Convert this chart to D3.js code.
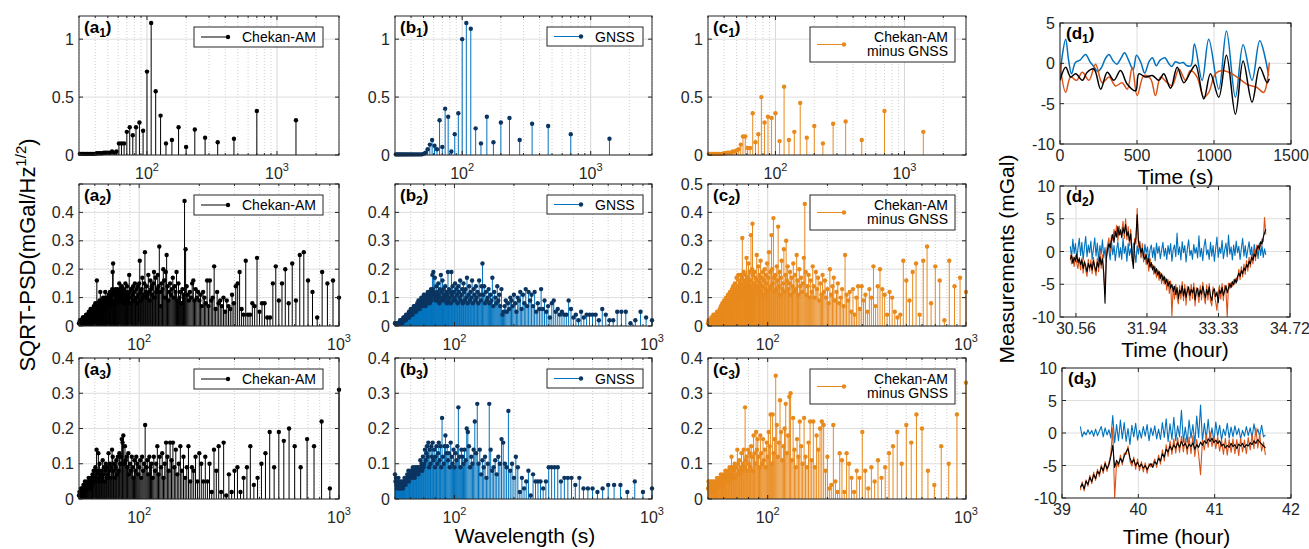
<!DOCTYPE html>
<html>
<head>
  <meta charset="utf-8">
  <title>SQRT-PSD and measurements</title>
  <script src="https://d3js.org/d3.v7.min.js"></script>
  <style>
    body { margin: 0; background: #fff; }
    text { font-family: "Liberation Sans", Arial, Helvetica, sans-serif; }
  </style>
</head>
<body>
  <svg id="fig" width="1309" height="549"></svg>

  <script>
    // ---- spectra: stem heights at wavelength = period / k, k = kStart, kStart+1, ...
    const period1 = 1400, kStart1 = 1;
    const period2 = 14000, kStart2 = 14;
    const period3 = 9000, kStart3 = 9;

    const a1 = [.30,.38,.14,.11,.15,.22,.07,.24,.13,.10,.34,.55,1.14,.72,.21,.28,.24,.17,.24,.20,.10,.10,.10,.03,.02,.03,.02,.02,.02,.02,.015,.015,.015,.015,.01,.01,.01,.01,.01,.01,.01,.01,.01,.01,.01,.01];
    const b1 = [.14,.18,.25,.27,.13,.32,.28,.11,.33,.10,.23,1.09,1.14,1.00,.36,.18,.03,.33,.40,.07,.30,.05,.08,.13,.09,.05,.02,.01,.005,.005,.005,.005,.005,.005,.005,.005,.005,.005,.005,.005,.005,.005,.005,.005,.005,.005];
    const c1 = [.20,.38,.13,.29,.27,.10,.25,.15,.45,.20,.13,.59,.12,.36,.32,.33,.28,.50,.18,.11,.36,.06,.06,.16,.16,.09,.05,.04,.03,.03,.02,.02,.02,.015,.015,.01,.01,.01,.01,.01,.01,.01,.01,.01,.01,.01];

    const a2 = [
      .10,.16,.15,.19,.03,.12,.16,.26,.25,.09, .22,.08,.20,.15,.09,.21,.15,.03,.03,.08,
      .08,.05,.24,.07,.08,.04,.04,.23,.04,.06, .19,.15,.14,.08,.11,.06,.07,.09,.05,.10,
      .07,.09,.08,.12,.06,.21,.10,.09,.16,.07, .16,.08,.10,.12,.07,.11,.09,.12,.10,.13,
      .09,.16,.15,.10,.12,.09,.11,.14,.27,.44, .11,.13,.08,.12,.10,.15,.09,.19,.12,.14,
      .10,.17,.13,.11,.15,.12,.09,.14,.25,.19, .10,.16,.20,.13,.15,.07,.12,.28,.14,.18,
      .13,.12,.17,.10,.19,.15,.11,.14,.13,.16, .09,.12,.18,.11,.10,.14,.12,.26,.15,.11,
      .10,.17,.13,.09,.12,.23,.15,.11,.14,.08, .13,.10,.09,.15,.12,.09,.14,.11,.13,.10,
      .13,.08,.12,.18,.10,.11,.09,.14,.12,.10, .15,.11,.09,.13,.08,.12,.10,.14,.11,.09,
      .13,.10,.15,.12,.09,.11,.13,.08,.12,.10, .13,.09,.11,.12,.08,.22,.19,.13,.09,.11,
      .07,.10,.12,.09,.08,.11,.10,.07,.09,.08, .10,.07,.09,.12,.08,.06,.09,.07,.10,.08,
      .06,.09,.07,.08,.06,.12,.07,.09,.06,.08, .07,.05,.08,.06,.16,.07,.05,.06,.08,.05,
      .06,.04,.07,.05,.06,.04,.05,.06,.04,.05, .04,.06,.03,.05,.04,.03,.05,.04,.03,.04,
      .03,.04,.03,.02,.04,.03,.02,.03,.02,.03, .02,.03,.02,.02,.03,.02,.01,.02,.02,.01,
      .02,.01,.01,.02,.01,.01,.01];
    const b2 = [
      .02,.03,.05,.02,.01,.05,.05,.05,.02,.02,.04,.06,.02,.04,.04,.04,.04,.03,.05,.02,.04,.03,.06,
      .09,.04,.04,.05,.04,.06,.05,.09,.08,.03,.07,.05,.09,.06,
      .13,.06,.08,.05,.12,.07,.11,.09,.12,.07,
      .13,.08,.11,.06,.12,.09,.10,.05,.08,.11, .07,.09,.10,.06,.08,.05,.09,.07,.05,.04,
      .13,.07,.11,.09,.14,.08,.10,.12,.07,.17, .09,.11,.08,.13,.10,.09,.12,.08,.14,.11,
      .22,.14,.09,.11,.16,.08,.12,.10,.14,.09, .11,.13,.08,.16,.10,.12,.09,.14,.11,.08,
      .17,.10,.13,.09,.12,.15,.08,.13,.11,.09, .16,.10,.12,.14,.08,.11,.13,.09,.15,.10,
      .12,.09,.14,.11,.19,.08,.12,.10,.13,.09, .19,.11,.08,.12,.10,.14,.09,.11,.13,.10,
      .16,.09,.12,.18,.10,.13,.08,.11,.15,.09, .12,.10,.14,.09,.11,.17,.10,.12,.19,.13,
      .18,.11,.09,.13,.10,.12,.08,.11,.09,.10, .12,.08,.10,.09,.11,.07,.10,.08,.09,.11,
      .08,.10,.07,.09,.08,.10,.07,.08,.09,.06, .08,.07,.09,.06,.07,.08,.06,.07,.05,.07,
      .06,.07,.05,.06,.07,.05,.06,.04,.06,.05, .04,.05,.06,.04,.05,.04,.03,.05,.04,.03,
      .04,.03,.04,.03,.03,.04,.02,.03,.03,.02, .03,.02,.02,.03,.02,.02,.01,.02,.02,.01,
      .02,.01,.01,.02,.01,.01,.01,.01,.01,.01, .01,.01,.01,.01,.01,.01,.01,.01,.01,.01];
    const c2 = [
      .12,.17,.14,.23,.02,.16,.21,.08,.28,.23, .04,.22,.19,.09,.16,.23,.04,.03,.05,.10,
      .12,.04,.11,.13,.20,.14,.07,.21,.10,.13, .05,.11,.09,.14,.06,.14,.10,.04,.13,.05,
      .12,.09,.11,.25,.07,.13,.10,.08,.15,.12, .09,.17,.14,.11,.20,.08,.13,.10,.16,.12,
      .18,.11,.15,.09,.17,.13,.19,.10,.14,.21, .12,.16,.10,.18,.14,.11,.19,.43,.24,.15,
      .12,.17,.14,.20,.11,.16,.25,.13,.18,.12, .22,.14,.17,.11,.19,.15,.13,.21,.16,.30,
      .18,.12,.27,.15,.13,.23,.17,.11,.19,.14, .35,.16,.21,.13,.18,.12,.17,.38,.15,.20,
      .32,.14,.19,.13,.26,.17,.12,.22,.15,.18, .13,.20,.16,.11,.19,.14,.17,.12,.23,.15,
      .18,.13,.21,.16,.12,.25,.14,.17,.11,.19, .15,.13,.18,.36,.20,.14,.32,.16,.12,.19,
      .15,.22,.13,.17,.11,.24,.14,.18,.12,.16, .13,.19,.15,.11,.31,.17,.14,.18,.12,.15,
      .11,.16,.13,.18,.10,.14,.12,.17,.09,.13, .11,.15,.09,.12,.10,.14,.08,.11,.13,.09,
      .11,.07,.10,.12,.08,.10,.06,.09,.11,.07, .09,.06,.08,.10,.07,.05,.08,.06,.09,.05,
      .07,.06,.04,.08,.05,.06,.04,.07,.05,.04, .06,.04,.05,.03,.05,.04,.03,.04,.05,.03,
      .04,.03,.04,.02,.03,.04,.02,.03,.02,.04, .03,.02,.03,.02,.02,.03,.02,.01,.02,.02,
      .01,.02,.01,.01,.02,.01,.01];

    const a3 = [
      .31,.03,.22,.15,.17,.09,.15,.20,.165,.19,.09,.19,.13,.10,.06,.04,.15,.09,.06,.02,.09,.08,
      .02,.07,.01,.16,.02,.15,.08,.14,.02,.10,.05,.12,.05,.10,.13,.05,.12,.08,.09,.05,.15,
      .09,.06,.12,.08,.15,.10,.07,.14,.09,.16, .11,.16,.08,.12,.16,.10,.06,.13,.09,.12,
      .07,.15,.10,.08,.12,.06,.10,.09,.12,.07, .11,.09,.21,.10,.08,.12,.06,.11,.09,.07,
      .10,.12,.08,.11,.06,.09,.12,.08,.10,.07, .13,.09,.12,.11,.15,.10,.18,.16,.17,.12,
      .10,.13,.08,.12,.07,.11,.09,.06,.10,.08, .12,.14,.09,.06,.10,.08,.13,.07,.09,.06,
      .10,.08,.05,.09,.07,.11,.06,.08,.05,.07, .10,.06,.13,.08,.05,.14,.07,.09,.05,.06,
      .08,.05,.07,.04,.06,.05,.03,.05,.04,.06, .03,.05,.04,.03,.04,.02,.05,.03,.02,.04,
      .02,.03,.02,.01,.03,.02,.01,.02,.01];
    const b3 = [
      .03,.02,.05,.02,.04,.04,.04,.03,.02,.03, .03,.03,.06,.04,.06,.06,.06,.05,.09,.09,
      .09,.09,.05,.03,.05,.05,.05,.07,.01,.08, .05,.03,.06,.02,.09,.12,.06,.10,.08,.25,
      .09,.10,.16,.17,.10,.12,.07,.11,.09,.08, .14,.27,.10,.06,.12,.09,.11,.07,.14,.10,
      .27,.13,.22,.14,.10,.12,.09,.15,.19,.20, .11,.14,.10,.12,.14,.09,.12,.26,.15,.11,
      .13,.09,.14,.10,.12,.16,.09,.13,.11,.15, .13,.18,.15,.10,.12,.23,.09,.15,.11,.16,
      .13,.10,.15,.12,.09,.14,.11,.16,.12,.15, .10,.14,.09,.16,.12,.15,.13,.11,.14,.10,
      .09,.12,.08,.10,.09,.11,.08,.09,.07,.08, .09,.07,.08,.09,.06,.08,.07,.09,.06,.08,
      .07,.08,.06,.07,.05,.08,.06,.07,.05,.06, .04,.05,.06,.04,.05,.03,.04,.05,.03,.04,
      .03,.05,.04,.03,.06,.04,.05,.03,.04,.06, .05,.07];
    const c3 = [
      .33,.24,.10,.15,.04,.08,.20,.24,.16,.21, .10,.19,.15,.13,.09,.06,.11,.05,.09,.03,
      .08,.19,.06,.08,.02,.06,.10,.13,.02,.11, .13,.02,.05,.21,.04,.03,.12,.08,.21,.22,
      .20,.14,.18,.09,.22,.11,.22,.16,.09,.12, .23,.10,.15,.22,.12,.17,.09,.14,.23,.11,
      .30,.29,.18,.13,.27,.20,.15,.11,.19,.28, .16,.12,.21,.35,.17,.13,.24,.10,.24,.15,
      .19,.12,.16,.09,.14,.11,.17,.10,.13,.18, .09,.12,.17,.14,.19,.10,.13,.18,.08,.12,
      .15,.09,.13,.10,.14,.08,.12,.11,.26,.09, .14,.10,.08,.13,.09,.07,.11,.08,.10,.14,
      .07,.09,.06,.10,.08,.06,.09,.07,.12,.08, .06,.09,.07,.05,.08,.06,.07,.05,.08,.06,
      .05,.07,.06,.04,.06,.05,.07,.04,.05,.06, .04,.05,.03,.06,.04,.05,.03,.04,.05,.03,
      .04,.03,.05,.02,.04,.03,.05,.02,.03,.04, .05,.03];

    // ---- time series (mGal)
    const d1Gnss = [[0,-2.1],[15,1.0],[37,3.0],[55,0.5],[75,-1.3],[100,0.1],[130,0.4],[166,1.1],[195,0.2],[220,-0.4],[245,-1.0],[270,-0.5],[295,0.6],[318,1.1],[345,0.3],[370,-0.1],[395,0.6],[419,1.3],[445,0.4],[475,-0.8],[497,1.0],[525,0.1],[550,-1.2],[578,0.2],[600,0.7],[625,-0.3],[650,0.4],[681,0.7],[705,0.0],[725,-0.4],[750,0.2],[775,0.0],[800,0.1],[825,-0.3],[850,-0.3],[873,2.4],[923,-2.1],[966,3.0],[1031,-3.2],[1081,4.0],[1139,-4.2],[1189,2.3],[1247,-2.1],[1297,2.8],[1355,-1.5]];
    const d1Diff = [[0,-0.1],[37,-3.6],[69,-1.7],[108,-2.1],[145,-1.1],[188,-2.1],[231,-0.1],[274,-2.4],[318,-1.7],[361,-2.8],[404,-2.4],[437,-3.2],[469,-0.5],[501,-4.0],[545,-1.5],[588,-1.9],[620,-4.0],[653,-1.7],[696,-2.4],[728,-2.8],[772,-0.7],[815,-2.1],[847,-0.9],[890,-1.7],[934,-4.2],[966,-3.6],[1009,-1.3],[1052,-0.9],[1096,-1.1],[1150,-1.7],[1215,-2.6],[1279,-3.0],[1323,-3.6],[1359,0.1]];
    const d1Chekan = [[0,-2.1],[37,-0.5],[69,-1.7],[102,-1.3],[145,-2.1],[177,-1.1],[220,-0.7],[264,-3.2],[307,-1.1],[350,-2.1],[393,-0.9],[437,-2.6],[491,-3.4],[512,-1.3],[555,-1.7],[599,-1.5],[642,-2.1],[674,-1.3],[718,-3.1],[761,-0.5],[804,-2.4],[847,-1.1],[880,-0.2],[934,-4.4],[977,-1.3],[1031,-4.2],[1081,1.0],[1139,-6.3],[1189,0.3],[1247,-4.8],[1297,-0.5],[1344,-2.4],[1359,-1.9]];

    // d2 / d3 sampled every 0.025 h from the start hour
    const d2Start = 30.45, d3Start = 39.24, sampleStep = 0.025;
    const d2Chekan = [
      -1.2,-0.6,-1.8,-0.9,-1.5,-0.4,-1.7,-1.1, -2.0,-1.3,-2.6,-1.6,-2.2,-3.1,-1.8,-2.5,
      -1.9,-2.8,-1.4,-2.3,-3.0,-1.6,-2.4,-0.8, -2.0,-1.1,-3.2,-7.9,-1.0,0.3,1.2,0.6,
      1.8,2.6,1.4,3.1,2.2,3.8,2.5,3.3, 2.1,3.6,2.8,4.1,2.4,3.0,1.6,2.7,
      -0.5,-2.6,1.2,2.0,5.6,1.5,0.8,-0.2, 0.5,-0.8,-1.2,-0.4,-1.9,-1.1,-2.4,-1.7,
      -2.8,-2.2,-3.3,-2.6,-3.6,-3.0,-4.1,-3.4, -4.4,-3.8,-4.9,-4.2,-5.3,-4.6,-5.6,-5.0,
      -6.1,-5.3,-6.6,-5.5,-7.2,-5.9,-6.4,-5.2, -6.8,-5.7,-7.0,-6.0,-5.4,-6.7,-5.8,-6.3,
      -5.5,-7.4,-6.1,-5.6,-6.9,-5.9,-6.5,-5.3, -6.2,-7.1,-5.8,-6.6,-5.4,-6.8,-7.5,-6.0,
      -5.7,-6.9,-6.2,-7.8,-5.9,-6.4,-5.5,-6.7, -6.0,-5.2,-6.3,-5.6,-4.9,-5.5,-4.6,-5.1,
      -4.2,-4.8,-3.9,-3.3,-3.8,-2.9,-3.4,-2.5, -2.9,-2.0,-2.4,-1.5,-1.9,-0.9,-1.3,-0.4,
      -0.8,0.3,0.9,0.4,1.5,1.1,2.2,2.8,3.4];
    const d2Diff = [
      -0.5,-1.9,-0.8,-2.3,-0.6,-1.8,-2.6,-0.9, -2.8,-1.0,-3.3,-1.4,-2.9,-3.8,-1.2,-3.0,
      -1.3,-3.4,-0.9,-2.7,-3.7,-1.0,-3.1,0.2, -2.6,-0.5,-3.8,-6.5,-0.3,1.0,2.1,-0.2,
      2.5,1.7,3.4,2.3,4.0,1.6,3.9,2.6, 3.0,4.6,2.0,5.0,1.8,3.8,0.9,3.4,
      -1.4,-2.0,2.0,1.1,6.6,0.7,1.5,-1.0, 1.2,-1.6,-0.3,-2.0,-1.0,-3.0,-1.0,-2.5,
      -2.0,-3.5,-2.3,-4.0,-2.8,-4.4,-3.2,-4.9, -3.6,-5.0,-4.0,-5.9,-4.3,-6.4,-4.5,-9.8,
      -5.3,-7.3,-5.0,-7.0,-8.0,-5.2,-7.3,-4.6, -7.5,-5.0,-8.2,-5.3,-6.2,-7.5,-5.0,-7.2,
      -4.8,-8.3,-5.5,-6.4,-7.8,-5.2,-7.4,-4.7, -7.0,-8.0,-5.1,-7.4,-4.9,-7.6,-8.3,-5.4,
      -6.6,-7.7,-9.0,-6.2,-5.2,-7.3,-4.9,-7.5, -5.2,-6.0,-10,-4.8,-5.7,-4.7,-5.3,-4.3,
      -4.9,-4.0,-4.5,-2.7,-4.3,-2.3,-3.9,-1.9, -3.5,-1.4,-3.0,-0.9,-2.4,-0.3,-1.9,0.3,
      -1.4,1.0,0.2,1.1,0.8,1.9,1.5,5.2,2.6];
    const d2Gnss = [
      0.8,-0.9,1.9,-0.3,1.2,-1.1,0.5,2.0, -0.6,1.4,-1.3,0.7,2.3,-0.8,1.0,-0.2,
      1.6,-1.2,0.4,2.1,-0.7,1.3,-1.5,0.9, -0.4,1.8,-1.0,0.6,-1.6,1.1,0.2,-1.3,
      1.7,-0.5,0.9,-1.4,0.3,1.5,-0.9,0.6, -1.2,2.0,-0.3,0.8,-1.5,1.2,-0.6,0.4,
      -1.0,1.3,0.0,-1.7,0.9,-0.4,1.6,-0.8, 0.5,-1.3,1.1,-0.2,0.7,-1.5,0.3,1.0,
      -0.9,0.6,-1.4,1.3,-0.3,0.8,-1.1,0.2, 1.4,-0.7,0.5,-1.2,0.9,-0.4,1.2,-1.5,
      0.3,1.0,-0.8,2.8,-0.5,0.7,-1.3,1.5, -0.2,0.9,-1.6,0.4,1.8,-0.6,0.2,-1.2,
      1.1,-0.3,0.6,-1.0,2.4,-0.8,0.5,-1.4, 0.8,1.9,-0.5,0.3,-1.2,1.4,-0.7,0.9,
      -1.5,0.4,2.2,-0.9,0.6,-0.3,1.7,-1.1, 0.2,1.3,-0.8,2.5,-0.4,0.7,-1.3,1.0,
      -0.6,1.6,-0.2,0.8,-1.2,0.5,2.0,-0.7, 0.9,-1.0,0.3,1.5,-0.5,0.7,-1.4,1.1,
      -0.3,0.6,-1.1,1.3,-0.6,0.9,-0.9,0.4,-0.5];

    const d3Chekan = [
      -8.4,-7.8,-8.6,-7.4,-7.9,-6.8,-7.5,-6.4, -7.0,-5.9,-6.3,-5.2,-5.8,-4.7,-5.5,-4.9,
      -3.6,-1.9,-5.3,-4.2,-4.8,-3.9,-4.5,-3.6, -2.9,-2.4,-3.8,-4.6,-4.1,-5.0,-4.5,-5.2,
      -4.8,-5.4,-5.0,-5.6,-5.1,-4.7,-5.3,-4.4, -4.8,-3.9,-4.3,-3.2,-3.7,-2.5,-2.9,-2.0,
      -2.6,-1.8,-2.3,-1.5,-2.2,-1.3,-2.0,-1.6, -2.4,-1.7,-2.1,-1.5,-2.5,-1.8,-2.2,-1.4,
      -1.9,-1.2,-1.6,-0.9,-1.3,-0.8,-1.5,-1.1, -1.6,-1.2,-2.0,-1.7,-2.3,-1.9,-2.2,-1.6,
      -2.1,-1.8,-2.4,-1.7,-2.0,-1.6,-2.2,-1.8, -2.0,-1.5,-1.8,-1.2,-1.6,-1.0,-1.4,-1.7,-2.0,-2.3];
    const d3Diff = [
      -8.8,-7.5,-8.9,-7.2,-8.2,-6.5,-7.8,-6.0, -7.3,-5.6,-6.7,-4.9,-6.2,-4.4,-5.9,-4.5,
      -3.2,0.8,-10,-4.6,-5.2,-3.4,-4.9,-3.1, -3.3,-2.0,-4.3,-5.1,-3.7,-5.6,-4.0,-5.8,
      -4.4,-6.0,-4.6,-6.2,-4.7,-5.2,-4.8,-4.0, -5.3,-3.4,-4.8,-2.6,-4.3,-1.8,-3.6,-1.2,
      -3.3,-0.9,-3.1,-0.7,-3.0,-0.5,-2.9,-0.8, -3.3,-0.6,-3.2,-0.4,-3.6,-1.0,-3.3,-6.4,
      -1.1,-2.6,-0.3,-2.2,0.2,-2.1,-0.5,-2.4, -0.6,-2.8,-1.1,-3.3,-0.8,-3.4,-1.0,-3.0,
      -0.9,-3.2,-1.0,-3.5,-0.8,-2.9,-1.1,-3.2, -0.7,-2.6,-0.3,-2.4,0.8,-2.3,-0.2,-2.8,-1.4,-3.4];
    const d3Gnss = [
      1.0,-0.6,0.2,-0.3,0.5,-0.2,0.4,-0.5, 0.6,-0.4,0.3,1.0,-0.6,0.8,-0.3,0.5,
      -0.8,2.7,-1.5,1.3,-1.2,2.0,-0.9,1.6, -1.3,0.7,-1.8,1.2,-0.6,1.5,-1.1,0.4,
      -0.8,1.0,-0.5,1.3,-1.2,0.8,-0.4,1.1, -0.9,0.6,-1.0,1.6,-0.7,2.2,-1.3,1.4,
      -1.0,2.4,-1.2,1.1,-0.6,3.5,-1.4,0.9, -1.5,2.0,-0.8,1.3,-1.7,2.6,-0.7,4.3,
      -1.3,1.5,-0.9,2.1,-1.0,0.8,-1.4,1.7, -0.5,1.2,-1.1,0.6,-0.4,1.5,-0.8,0.9,
      -0.6,1.1,-0.3,0.7,-0.9,0.4,-0.5,1.0, -0.4,0.8,-0.7,1.4,-0.3,0.6,-0.5,1.2,-0.6,-0.3];

    const d2HourTicks = [30.56, 31.94, 33.33, 34.72];
    const d3HourTicks = [39, 40, 41, 42];
    const d1SecondTicks = [0, 500, 1000, 1500];

    // ---- styles
    const AX = "#262626";
    const BLACK = "#000000", BLUE = "#0072BD", BLUE_DOT = "#0b3560", STEM_OR = "#E8891C", RED_OR = "#D95319";

    const svg = d3.select("#fig");

    function panelLabel(g, x, y, letter, idx) {
      const t = g.append("text").attr("x", x).attr("y", y)
        .attr("font-weight", "bold").attr("font-size", 17).attr("fill", "#000");
      t.append("tspan").text("(" + letter);
      t.append("tspan").attr("dy", 4).attr("font-size", 12).text(idx);
      t.append("tspan").attr("dy", -4).text(")");
    }

    function boxTicks(g, x, y, box, xTicks, yTicks, len) {
      const xs = xTicks.map(v => x(v)), ys = yTicks.map(v => y(v));
      xs.forEach(px => {
        g.append("line").attr("x1", px).attr("x2", px).attr("y1", box.bottom).attr("y2", box.bottom - len).attr("stroke", AX);
        g.append("line").attr("x1", px).attr("x2", px).attr("y1", box.top).attr("y2", box.top + len).attr("stroke", AX);
      });
      ys.forEach(py => {
        g.append("line").attr("y1", py).attr("y2", py).attr("x1", box.left).attr("x2", box.left + len).attr("stroke", AX);
        g.append("line").attr("y1", py).attr("y2", py).attr("x1", box.right).attr("x2", box.right - len).attr("stroke", AX);
      });
    }

    function spectrumPanel(p) {
      const g = svg.append("g");
      const x = d3.scaleLog().domain(p.xDom).range([p.left, p.right]);
      const y = d3.scaleLinear().domain(p.yDom).range([p.bottom, p.top]);
      const allX = x.ticks();
      const isDecade = v => Math.abs(Math.log10(v) - Math.round(Math.log10(v))) < 1e-9;
      const decades = allX.filter(isDecade);

      // grid
      g.selectAll(".gx").data(allX).join("line")
        .attr("x1", d => x(d)).attr("x2", d => x(d)).attr("y1", p.top).attr("y2", p.bottom)
        .attr("stroke", d => isDecade(d) ? "#d6d6d6" : "#c4c4c4")
        .attr("stroke-width", d => isDecade(d) ? 1 : 0.8)
        .attr("stroke-dasharray", d => isDecade(d) ? null : "1,2");
      g.selectAll(".gy").data(p.yGrid).join("line")
        .attr("y1", d => y(d)).attr("y2", d => y(d)).attr("x1", p.left).attr("x2", p.right)
        .attr("stroke", "#dedede");

      // stems
      const pts = p.vals.map((v, i) => ({ w: p.period / (p.k0 + i), v }))
        .filter(d => d.w >= p.xDom[0] * 0.999 && d.w <= p.xDom[1] * 1.001);
      g.append("g").selectAll("line").data(pts).join("line")
        .attr("x1", d => x(d.w)).attr("x2", d => x(d.w))
        .attr("y1", y(0)).attr("y2", d => y(d.v))
        .attr("stroke", p.color).attr("stroke-width", 1);
      g.append("g").selectAll("circle").data(pts).join("circle")
        .attr("cx", d => x(d.w)).attr("cy", d => y(d.v)).attr("r", 2.2)
        .attr("fill", p.dot);

      // box + ticks
      g.append("rect").attr("x", p.left).attr("y", p.top)
        .attr("width", p.right - p.left).attr("height", p.bottom - p.top)
        .attr("fill", "none").attr("stroke", AX).attr("stroke-width", 1);
      boxTicks(g, x, y, p, decades, p.yGrid, 4);
      boxTicks(g, x, y, p, allX.filter(v => !isDecade(v)), [], 2);

      // tick labels
      g.selectAll(".yl").data(p.yTicks).join("text")
        .attr("x", p.left - 5).attr("y", d => y(d) + 5.5)
        .attr("text-anchor", "end").attr("font-size", 16).attr("fill", AX)
        .text(d => String(d));
      decades.forEach(d => {
        const t = g.append("text").attr("x", x(d)).attr("y", p.bottom + 24)
          .attr("text-anchor", "middle").attr("font-size", 16).attr("fill", AX);
        t.append("tspan").text("10");
        t.append("tspan").attr("dy", -8).attr("font-size", 11).text(Math.round(Math.log10(d)));
      });

      panelLabel(g, p.left + 5, p.top + 17, p.letter, p.idx);

      // legend
      const lg = p.legend;
      const lx = p.right - lg.inset - lg.w, ly = p.top + 11;
      g.append("rect").attr("x", lx).attr("y", ly).attr("width", lg.w).attr("height", lg.h)
        .attr("fill", "#fff").attr("stroke", AX).attr("stroke-width", 1);
      const cy = ly + lg.h / 2;
      g.append("line").attr("x1", lx + 7).attr("x2", lx + 34).attr("y1", cy).attr("y2", cy)
        .attr("stroke", p.color).attr("stroke-width", 1);
      g.append("circle").attr("cx", lx + 34).attr("cy", cy).attr("r", 2.2).attr("fill", p.dot);
      if (lg.lines.length === 1) {
        g.append("text").attr("x", lx + 48).attr("y", cy + 5).attr("font-size", 14).attr("fill", "#000").text(lg.lines[0]);
      } else {
        lg.lines.forEach((s, i) => {
          g.append("text").attr("x", lx + lg.w - 7).attr("y", cy - 3 + i * 14)
            .attr("text-anchor", "end").attr("font-size", 14).attr("fill", "#000").text(s);
        });
      }
    }

    const cols = [
      { left: 79, right: 339, letter: "a", color: BLACK, dot: BLACK, legend: { w: 129, h: 20, inset: 16, lines: ["Chekan-AM"] } },
      { left: 395, right: 652, letter: "b", color: BLUE, dot: BLUE_DOT, legend: { w: 96, h: 19, inset: 9, lines: ["GNSS"] } },
      { left: 708, right: 966, letter: "c", color: STEM_OR, dot: STEM_OR, legend: { w: 145, h: 35, inset: 11, lines: ["Chekan-AM", "minus GNSS"] } }
    ];
    const rows = [
      { top: 16, bottom: 155, xDom: [30, 3000], yDom: [0, 1.2], yGrid: [0, 0.5, 1], period: period1, k0: kStart1, data: [a1, b1, c1] },
      { top: 184, bottom: 326, xDom: [50, 1000], yDom: [0, 0.5], yGrid: [0, 0.1, 0.2, 0.3, 0.4, 0.5], period: period2, k0: kStart2, data: [a2, b2, c2] },
      { top: 358, bottom: 499, xDom: [50, 1000], yDom: [0, 0.4], yGrid: [0, 0.1, 0.2, 0.3, 0.4], period: period3, k0: kStart3, data: [a3, b3, c3] }
    ];
    rows.forEach((r, ri) => {
      cols.forEach((c, ci) => {
        let yTicks = r.yGrid;
        if (ri === 1 && ci < 2) yTicks = [0, 0.1, 0.2, 0.3, 0.4];
        spectrumPanel({
          left: c.left, right: c.right, top: r.top, bottom: r.bottom,
          xDom: r.xDom, yDom: r.yDom, yGrid: r.yGrid, yTicks,
          period: r.period, k0: r.k0, vals: r.data[ci],
          color: c.color, dot: c.dot, letter: c.letter, idx: String(ri + 1), legend: c.legend
        });
      });
    });

    // shared labels of the spectra
    const yl = svg.append("text").attr("transform", "translate(35,255) rotate(-90)")
      .attr("text-anchor", "middle").attr("font-size", 22).attr("fill", "#000");
    yl.append("tspan").text("SQRT-PSD(mGal/Hz");
    yl.append("tspan").attr("dy", -9).attr("font-size", 15).text("1/2");
    yl.append("tspan").attr("dy", 9).text(")");
    svg.append("text").attr("x", 525).attr("y", 543).attr("text-anchor", "middle")
      .attr("font-size", 21).attr("fill", "#000").text("Wavelength (s)");

    // ---- time panels
    function timePanel(p) {
      const g = svg.append("g");
      const x = d3.scaleLinear().domain(p.xDom).range([p.left, p.right]);
      const y = d3.scaleLinear().domain(p.yDom).range([p.bottom, p.top]);

      g.selectAll(".gx").data(p.xTicks).join("line")
        .attr("x1", d => x(d)).attr("x2", d => x(d)).attr("y1", p.top).attr("y2", p.bottom).attr("stroke", "#dedede");
      g.selectAll(".gy").data(p.yTicks).join("line")
        .attr("y1", d => y(d)).attr("y2", d => y(d)).attr("x1", p.left).attr("x2", p.right).attr("stroke", "#dedede");

      const clipId = "clip" + p.idx;
      g.append("clipPath").attr("id", clipId).append("rect")
        .attr("x", p.left).attr("y", p.top).attr("width", p.right - p.left).attr("height", p.bottom - p.top);
      const lines = g.append("g").attr("clip-path", `url(#${clipId})`);
      p.series.forEach(s => {
        const line = d3.line().x(d => x(d[0])).y(d => y(d[1]));
        if (p.smooth) line.curve(d3.curveCatmullRom.alpha(0.5));
        lines.append("path").datum(s.pts).attr("d", line)
          .attr("fill", "none").attr("stroke", s.color).attr("stroke-width", p.smooth ? 1.5 : 1.1)
          .attr("stroke-linejoin", "round");
      });

      g.append("rect").attr("x", p.left).attr("y", p.top)
        .attr("width", p.right - p.left).attr("height", p.bottom - p.top)
        .attr("fill", "none").attr("stroke", AX).attr("stroke-width", 1);
      boxTicks(g, x, y, p, p.xTicks, p.yTicks, 4);

      g.selectAll(".yl").data(p.yTicks).join("text")
        .attr("x", p.left - 5).attr("y", d => y(d) + 6)
        .attr("text-anchor", "end").attr("font-size", 16).attr("fill", AX).text(d => String(d));
      g.selectAll(".xl").data(p.xTicks).join("text")
        .attr("x", d => x(d)).attr("y", p.bottom + 17)
        .attr("text-anchor", "middle").attr("font-size", 16).attr("fill", AX).text(p.xFmt);
      g.append("text").attr("x", (p.left + p.right) / 2).attr("y", p.xLabelY)
        .attr("text-anchor", "middle").attr("font-size", 21).attr("fill", "#000").text(p.xLabel);
      panelLabel(g, p.left + 6, p.top + 16, "d", p.idx);
    }

    const hourPairs = (start, vals) => vals.map((v, i) => [start + i * sampleStep, v]);

    timePanel({
      idx: "1", left: 1060, right: 1291, top: 23, bottom: 144,
      xDom: [0, 1500], xTicks: d1SecondTicks, xFmt: d => String(d),
      yDom: [-10, 5], yTicks: [-10, -5, 0, 5], smooth: true,
      xLabel: "Time (s)", xLabelY: 184,
      series: [
        { pts: d1Gnss, color: BLUE },
        { pts: d1Diff, color: RED_OR },
        { pts: d1Chekan, color: BLACK }
      ]
    });
    timePanel({
      idx: "2", left: 1060, right: 1290, top: 186, bottom: 317,
      xDom: [30.25, 34.72], xTicks: d2HourTicks, xFmt: d => d.toFixed(2),
      yDom: [-10, 10], yTicks: [-10, -5, 0, 5, 10], smooth: false,
      xLabel: "Time (hour)", xLabelY: 357,
      series: [
        { pts: hourPairs(d2Start, d2Gnss), color: BLUE },
        { pts: hourPairs(d2Start, d2Diff), color: RED_OR },
        { pts: hourPairs(d2Start, d2Chekan), color: BLACK }
      ]
    });
    timePanel({
      idx: "3", left: 1062, right: 1291, top: 368, bottom: 498,
      xDom: [39, 42], xTicks: d3HourTicks, xFmt: d => String(d),
      yDom: [-10, 10], yTicks: [-10, -5, 0, 5, 10], smooth: false,
      xLabel: "Time (hour)", xLabelY: 544,
      series: [
        { pts: hourPairs(d3Start, d3Gnss), color: BLUE },
        { pts: hourPairs(d3Start, d3Diff), color: RED_OR },
        { pts: hourPairs(d3Start, d3Chekan), color: BLACK }
      ]
    });

    svg.append("text").attr("transform", "translate(1014,259) rotate(-90)")
      .attr("text-anchor", "middle").attr("font-size", 21).attr("fill", "#000")
      .text("Measurements (mGal)");
  </script>
</body>
</html>
